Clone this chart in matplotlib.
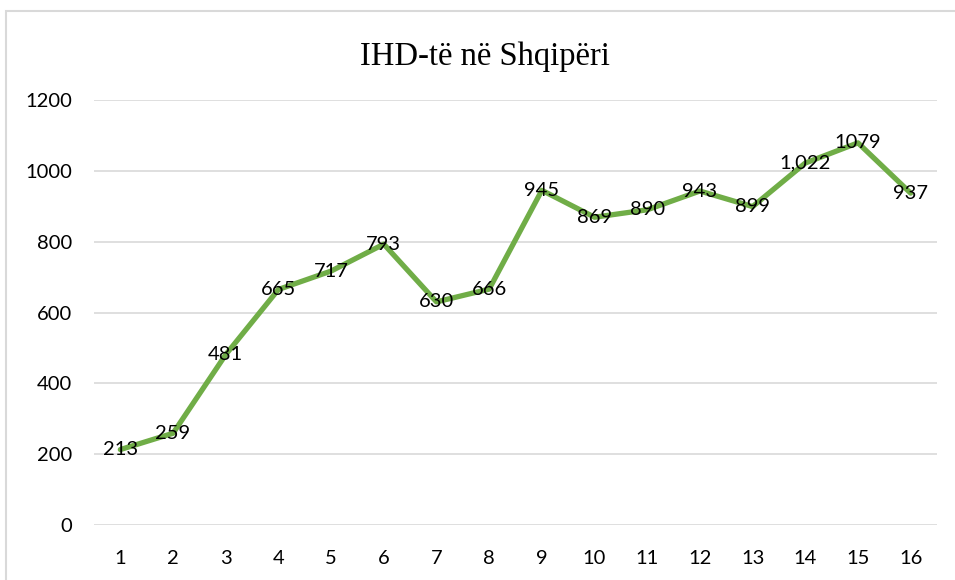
import matplotlib
matplotlib.use("Agg")
import matplotlib.pyplot as plt
from matplotlib.patches import Rectangle

# data
periods = list(range(1, 17))
values = [213, 259, 481, 665, 717, 793, 630, 666, 945, 869, 890, 943, 899, 1022, 1079, 937]
labels = ["213", "259", "481", "665", "717", "793", "630", "666", "945",
          "869", "890", "943", "899", "1,022", "1079", "937"]
y_ticks = [0, 200, 400, 600, 800, 1000, 1200]
title = "IHD-të në Shqipëri"

plt.rcParams['font.family'] = ['Lato', 'DejaVu Sans']

fig = plt.figure(figsize=(9.55, 5.8), dpi=100)
ax = fig.add_axes([94 / 955, 1 - 525 / 580, (937 - 94) / 955, (525 - 100) / 580])

# outer chart border (light grey, runs off right/bottom edge)
fig.patches.append(Rectangle((6 / 955, -0.1), 1.2, 1 - 11 / 580 + 0.1,
                             transform=fig.transFigure, fill=False,
                             edgecolor="#d9d9d9", linewidth=1.5))

ax.plot(periods, values, '-', color="#70ad47", linewidth=3.8, solid_capstyle="round", zorder=3)

for x, y, t in zip(periods, values, labels):
    ax.text(x, y, t, ha="center", va="center", fontsize=14.5, color="black", zorder=4)

ax.set_xlim(0.5, 16.5)
ax.set_ylim(0, 1200)
ax.set_xticks(periods)
ax.set_yticks(y_ticks)
ax.tick_params(axis="both", length=0, labelsize=14.5, colors="black")
ax.tick_params(axis="x", pad=18)
ax.tick_params(axis="y", pad=16)
ax.grid(axis="y", color="#d9d9d9", linewidth=1.2, zorder=0)
ax.set_axisbelow(True)
for s in ax.spines.values():
    s.set_visible(False)

fig.text(485 / 955, 1 - 57 / 580, title, ha="center", va="center",
         fontsize=23.5, family="Liberation Serif")

fig.savefig("out.png", dpi=100)
